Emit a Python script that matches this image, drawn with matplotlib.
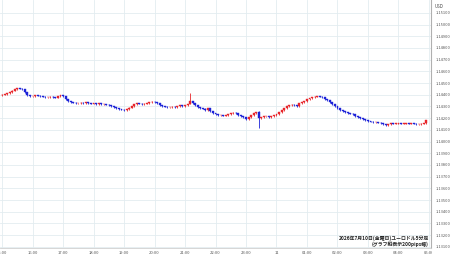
import matplotlib
matplotlib.use("Agg")
import matplotlib.pyplot as plt
from matplotlib.patches import Rectangle

# 5分足 終値 (15:00 -> 04:55)
closes = [
    1.14400, 1.14404, 1.14413, 1.14421, 1.14434, 1.14447, 1.14456, 1.14451, 1.14447, 1.14421, 1.14396, 1.14387,
    1.14387, 1.14396, 1.14391, 1.14387, 1.14383, 1.14379, 1.14379, 1.14383, 1.14379, 1.14374, 1.14387, 1.14396,
    1.14387, 1.14361, 1.14344, 1.14336, 1.14331, 1.14327, 1.14327, 1.14331, 1.14327, 1.14336, 1.14327, 1.14323,
    1.14327, 1.14318, 1.14327, 1.14318, 1.14318, 1.14314, 1.14310, 1.14301, 1.14293, 1.14284, 1.14276, 1.14271,
    1.14267, 1.14276, 1.14288, 1.14301, 1.14318, 1.14327, 1.14323, 1.14318, 1.14323, 1.14327, 1.14336, 1.14340,
    1.14336, 1.14327, 1.14310, 1.14301, 1.14297, 1.14293, 1.14293, 1.14297, 1.14293, 1.14301, 1.14310, 1.14301,
    1.14310, 1.14318, 1.14344, 1.14327, 1.14310, 1.14293, 1.14284, 1.14280, 1.14267, 1.14284, 1.14258, 1.14241,
    1.14233, 1.14224, 1.14224, 1.14220, 1.14224, 1.14233, 1.14241, 1.14246, 1.14241, 1.14224, 1.14216, 1.14207,
    1.14190, 1.14207, 1.14224, 1.14241, 1.14250, 1.14198, 1.14207, 1.14216, 1.14216, 1.14207, 1.14216, 1.14224,
    1.14233, 1.14250, 1.14267, 1.14284, 1.14301, 1.14310, 1.14314, 1.14310, 1.14301, 1.14327, 1.14336, 1.14344,
    1.14361, 1.14370, 1.14379, 1.14383, 1.14387, 1.14383, 1.14379, 1.14361, 1.14353, 1.14336, 1.14318, 1.14301,
    1.14284, 1.14267, 1.14258, 1.14250, 1.14241, 1.14237, 1.14233, 1.14216, 1.14207, 1.14198, 1.14190, 1.14181,
    1.14173, 1.14168, 1.14164, 1.14164, 1.14160, 1.14155, 1.14147, 1.14138, 1.14147, 1.14155, 1.14151, 1.14155,
    1.14155, 1.14151, 1.14155, 1.14155, 1.14151, 1.14155, 1.14151, 1.14147, 1.14147, 1.14151, 1.14155, 1.14181,
]
first_open = 1.14396
# 目立つヒゲ (index: (high, low))
wicks = {74: (1.14413, 1.14318), 101: (1.14258, 1.14113)}

hour_labels = ["15:00", "16:00", "17:00", "18:00", "19:00", "20:00", "21:00", "22:00",
               "23:00", "11", "01:00", "02:00", "03:00", "04:00", "05:00"]
price_ticks = [1.131 + 0.001 * k for k in range(21)]

UP = "#e8262b"
DOWN = "#1c22d8"
pad = 0.00004

plt.rcParams['font.family'] = ['Noto Sans CJK JP', 'DejaVu Sans']
fig = plt.figure(figsize=(4.5, 2.58), dpi=100)
ax = fig.add_axes([0, 10 / 258, 431 / 450, 248 / 258])

opens = [first_open] + closes[:-1]
for i, (o, c) in enumerate(zip(opens, closes)):
    col = UP if c >= o else DOWN
    lo_b, hi_b = min(o, c), max(o, c)
    if hi_b - lo_b < 0.00002:
        mid = (hi_b + lo_b) / 2
        lo_b, hi_b = mid - 0.00001, mid + 0.00001
    hi, lo = wicks.get(i, (hi_b + pad, lo_b - pad))
    ax.vlines(i, lo, hi, color=col, lw=0.6, zorder=3)
    ax.add_patch(Rectangle((i - 0.38, lo_b), 0.76, hi_b - lo_b,
                           facecolor=col, edgecolor=col, lw=0.3, zorder=4))

ax.set_xlim(-0.8, 168.8)
ax.set_ylim(1.1309, 1.1521)
ax.set_xticks([12 * k for k in range(len(hour_labels))])
ax.set_xticklabels(hour_labels)
ax.set_yticks(price_ticks)
ax.set_yticklabels([f"{p:.5f}" for p in price_ticks])
ax.yaxis.tick_right()
ax.tick_params(axis="x", length=0, labelsize=3.0, colors="#555555", pad=2)
ax.tick_params(axis="y", length=0, labelsize=2.9, colors="#555555", pad=3)
ax.grid(True, color="#e3ecf0", lw=0.6, zorder=0)
for s in ["top", "left"]:
    ax.spines[s].set_visible(False)
ax.spines["right"].set_color("#b0b0b0")
ax.spines["right"].set_linewidth(0.8)
ax.spines["bottom"].set_color("#d0d0d0")
ax.spines["bottom"].set_linewidth(0.6)

fig.text(434.5 / 450, 1 - 6 / 258, "USD", fontsize=3.2, color="#444444", va="center")
ax.text(0.995, 0.004, "2026年7月10日(金曜日)ユーロドル5分足\n(グラフ縦表示200pips幅)",
        transform=ax.transAxes, ha="right", va="bottom", fontsize=3.5, fontweight="bold",
        color="#222222", linespacing=1.0, zorder=6)

# 右端で切れる時刻ラベルを隠す
fig.patches.append(Rectangle((431.5 / 450, 0), 20 / 450, 8 / 258, transform=fig.transFigure,
                             facecolor="white", edgecolor="none", zorder=10))

fig.savefig("out.png", dpi=100, facecolor="white")
